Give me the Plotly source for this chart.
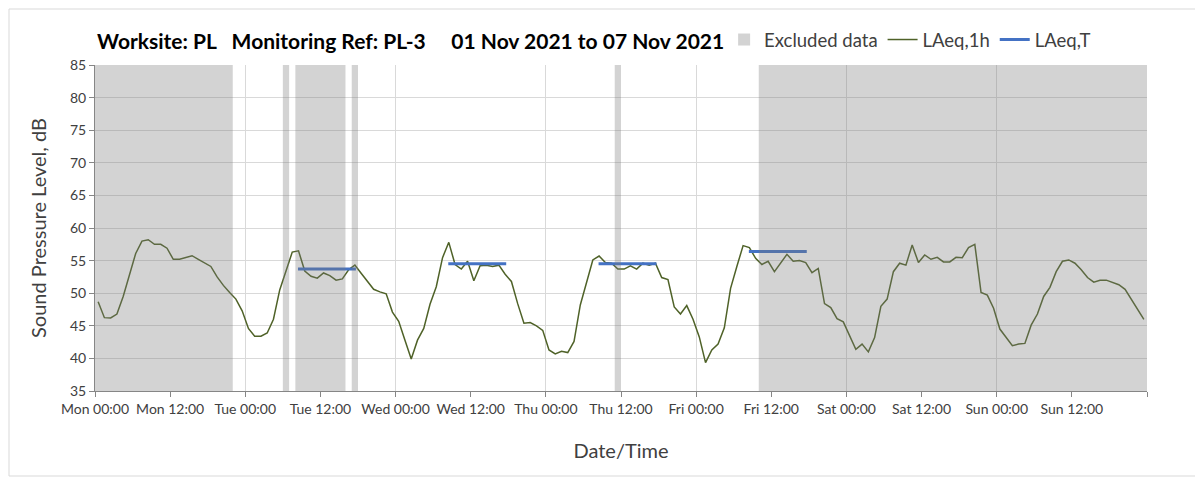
import plotly.graph_objects as go
import pandas as pd

# ---------------- data ----------------
start_date = "2021-11-01 00:30"          # first hourly LAeq,1h value (hour centre)
laeq_1h = [
    48.7, 46.25, 46.2, 46.8, 49.5, 52.8, 56.1, 58.0, 58.2, 57.5, 57.5, 56.9,
    55.2, 55.2, 55.45, 55.75, 55.2, 54.6, 54.1, 52.5, 51.2, 50.1, 49.1, 47.3,
    44.6, 43.4, 43.4, 43.9, 46.0, 50.5, 53.5, 56.3, 56.5, 53.4, 52.6, 52.3,
    53.1, 52.7, 52.0, 52.2, 53.6, 54.3, 53.05, 51.8, 50.6, 50.2, 49.9, 47.1,
    45.7, 42.8, 39.9, 42.8, 44.6, 48.3, 51.0, 55.45, 57.8, 54.4, 53.7, 54.9,
    51.9, 54.2, 54.3, 54.1, 54.3, 52.9, 51.8, 48.4, 45.4, 45.5, 45.0, 44.3,
    41.3, 40.7, 41.1, 40.9, 42.6, 48.2, 51.7, 55.1, 55.7, 54.7, 54.6, 53.7,
    53.7, 54.2, 53.7, 54.6, 54.3, 54.6, 52.4, 52.1, 47.9, 46.8, 48.1, 46.0,
    43.3, 39.35, 41.3, 42.2, 44.7, 50.75, 54.1, 57.3, 57.0, 55.35, 54.4, 54.9,
    53.3, 54.7, 55.96, 54.9, 55.0, 54.7, 53.15, 53.8, 48.4, 47.8, 46.1, 45.6,
    43.6, 41.4, 42.2, 41.0, 43.2, 48.0, 49.1, 53.3, 54.6, 54.3, 57.4, 54.7,
    55.86, 55.2, 55.5, 54.8, 54.8, 55.5, 55.45, 57.0, 57.5, 50.1, 49.7, 47.7,
    44.5, 43.2, 41.95, 42.2, 42.3, 45.1, 46.8, 49.5, 50.9, 53.3, 54.9, 55.1,
    54.6, 53.6, 52.4, 51.7, 52.0, 52.0, 51.6, 51.3, 50.6, 49.0, 47.5, 46.0,
]

# excluded periods (hours from Mon 01 Nov 2021 00:00)
excluded_start_h = [0, 30, 32, 41, 83, 106]
excluded_end_h = [22, 31, 40, 42, 84, 168]

# LAeq,T daytime periods
laeqT_days = ["2021-11-02", "2021-11-03", "2021-11-04", "2021-11-05"]
laeqT_values = [53.7, 54.5, 54.5, 56.4]
laeqT_from = "08:25"
laeqT_to = "17:40"

# x tick labels (every 12 h from Mon 00:00; last tick unlabelled)
tick_labels = ["Mon 00:00", "Mon 12:00", "Tue 00:00", "Tue 12:00", "Wed 00:00",
               "Wed 12:00", "Thu 00:00", "Thu 12:00", "Fri 00:00", "Fri 12:00",
               "Sat 00:00", "Sat 12:00", "Sun 00:00", "Sun 12:00", ""]

x_range = ["2021-11-01 00:00", "2021-11-08 00:00"]
y_min, y_max = 35, 85

NB = "\u00a0"
title_text = ("Worksite: PL" + NB * 3 + "Monitoring Ref: PL-3" + NB * 5 +
              "01 Nov 2021 to 07 Nov 2021")

# ---------------- build ----------------
t0 = pd.Timestamp("2021-11-01 00:00")
HOUR_MS = 3600 * 1000

t_1h = pd.date_range(start_date, periods=len(laeq_1h), freq="h")
tick_vals = [t0 + pd.Timedelta(hours=12 * i) for i in range(len(tick_labels))]

ex_centres = [t0 + pd.Timedelta(hours=(s + e) / 2) for s, e in zip(excluded_start_h, excluded_end_h)]
ex_widths = [(e - s) * HOUR_MS for s, e in zip(excluded_start_h, excluded_end_h)]

tx, ty = [], []
for d, v in zip(laeqT_days, laeqT_values):
    tx += [pd.Timestamp(f"{d} {laeqT_from}"), pd.Timestamp(f"{d} {laeqT_to}"), None]
    ty += [v, v, None]

FONT = "Lato, 'Open Sans', sans-serif"
TXT = "#404040"
GRID = "#d9d9d9"

W, H = 1195, 472      # page body has an 8 px margin
L, R, T, B = 87, 56, 57, 89

fig = go.Figure()

fig.add_trace(go.Bar(
    x=ex_centres, y=[y_max - y_min] * len(ex_centres), base=[y_min] * len(ex_centres),
    width=ex_widths, marker=dict(color="rgba(120,120,120,0.33)", line=dict(width=0)),
    name="Excluded data", xaxis="x2", hoverinfo="skip",
))
fig.add_trace(go.Scatter(
    x=t_1h, y=laeq_1h, mode="lines", name="LAeq,1h",
    line=dict(color="#4f6228", width=1.5),
))
fig.add_trace(go.Scatter(
    x=tx, y=ty, mode="lines", name="LAeq,T",
    line=dict(color="#4472c4", width=3), connectgaps=False,
))

pw, ph = W - L - R, H - T - B

fig.update_layout(
    width=W, height=H,
    margin=dict(l=L, r=R, t=T, b=B),
    paper_bgcolor="white", plot_bgcolor="white",
    font=dict(family=FONT, color=TXT, size=14),
    barmode="overlay",
    title=dict(text=f"<b>{title_text}</b>", x=0.002, xref="paper", xanchor="left",
               y=1 - 34 / H, yref="container", yanchor="middle",
               font=dict(family=FONT, size=21, color="#000000")),
    legend=dict(orientation="h", x=0.598, xanchor="left", y=1 + 25 / ph, yanchor="middle",
                font=dict(family=FONT, size=18.5, color=TXT), bgcolor="rgba(0,0,0,0)",
                itemwidth=30, tracegroupgap=0),
    xaxis=dict(
        type="date", range=x_range, tickmode="array", tickvals=tick_vals, ticktext=tick_labels,
        tickangle=0, showgrid=False, ticks="outside", ticklen=5,
        tickcolor="#868686", showline=True, linecolor="#868686", linewidth=1,
        tickfont=dict(size=14, color=TXT),
        title=dict(text="Date/Time", font=dict(size=20, color=TXT), standoff=28),
        automargin=False, zeroline=False,
    ),
    xaxis2=dict(
        type="date", range=x_range, overlaying="x", matches="x", tick0="2021-11-01",
        dtick=24 * HOUR_MS, showgrid=True, gridcolor=GRID, gridwidth=1,
        showticklabels=False, ticks="", showline=False, zeroline=False,
    ),
    yaxis=dict(
        range=[y_min, y_max], dtick=5, showgrid=True, gridcolor=GRID, gridwidth=1,
        ticks="outside", ticklen=5, tickcolor="#868686", showline=True,
        linecolor="#868686", linewidth=1, tickfont=dict(size=14, color=TXT),
        title=dict(text="Sound Pressure Level, dB", font=dict(size=20, color=TXT), standoff=17),
        automargin=False, zeroline=False,
    ),
    shapes=[dict(type="rect", xref="paper", yref="paper",
                 x0=-(L - 1) / pw, x1=(1197 - 8 - L) / pw,
                 y0=-(476 - 8 - T - ph) / ph, y1=1 + (T - 1) / ph,
                 line=dict(color="#d9d9d9", width=1), fillcolor="rgba(0,0,0,0)",
                 layer="below")],
)

fig.write_html("out.html")
